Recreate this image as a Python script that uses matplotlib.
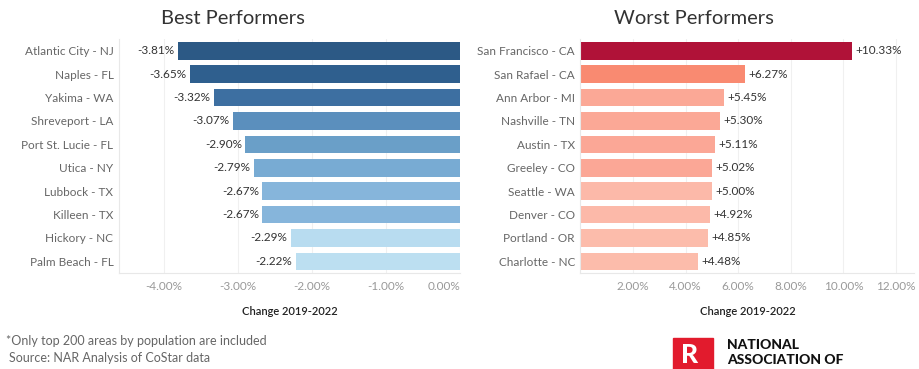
import matplotlib
matplotlib.use('Agg')
import matplotlib.pyplot as plt
from matplotlib.patches import Rectangle

best_cities = ['Atlantic City - NJ', 'Naples - FL', 'Yakima - WA', 'Shreveport - LA',
               'Port St. Lucie - FL', 'Utica - NY', 'Lubbock - TX', 'Killeen - TX',
               'Hickory - NC', 'Palm Beach - FL']
best_values = [-3.81, -3.65, -3.32, -3.07, -2.90, -2.79, -2.67, -2.67, -2.29, -2.22]
best_colors = ['#2c5985', '#2f5f8e', '#3d6fa1', '#5b8fbd', '#6a9fc8',
               '#78abd3', '#86b5db', '#86b5db', '#b8dcf0', '#bcdff1']

worst_cities = ['San Francisco - CA', 'San Rafael - CA', 'Ann Arbor - MI', 'Nashville - TN',
                'Austin - TX', 'Greeley - CO', 'Seattle - WA', 'Denver - CO',
                'Portland - OR', 'Charlotte - NC']
worst_values = [10.33, 6.27, 5.45, 5.30, 5.11, 5.02, 5.00, 4.92, 4.85, 4.48]
worst_colors = ['#b01238', '#f98a71', '#fba896', '#fba896', '#fba796',
                '#fba796', '#fcb9a9', '#fcb9a9', '#fcbcab', '#fcbcab']

best_ticks = [-4, -3, -2, -1, 0]
worst_ticks = [2, 4, 6, 8, 10, 12]

plt.rcParams['font.family'] = ['Lato', 'DejaVu Sans']

fig = plt.figure(figsize=(9.19, 3.69), dpi=100)
ax1 = fig.add_axes([0.1295, 0.260, 0.371, 0.634])
ax2 = fig.add_axes([0.6316, 0.260, 0.3634, 0.634])


def style(ax, cities, ticks, labels):
    ax.set_ylim(9.5, -0.5)
    ax.set_yticks(range(len(cities)))
    ax.set_yticklabels(cities, fontsize=8.5, color='#666666')
    ax.set_xticks(ticks)
    ax.set_xticklabels(labels, fontsize=8.5, color='#999999')
    ax.tick_params(length=0, pad=6)
    ax.tick_params(axis='y', pad=4)
    ax.grid(axis='x', color='#f0f0f0', linewidth=0.8)
    ax.set_axisbelow(True)
    for s in ['top', 'right']:
        ax.spines[s].set_visible(False)
    for s in ['left', 'bottom']:
        ax.spines[s].set_color('#e8e8e8')
        ax.spines[s].set_linewidth(0.8)
    ax.set_xlabel('Change 2019-2022', fontsize=8, fontweight='semibold',
                  color='#222222', labelpad=10)


# best performers
ax1.barh(range(len(best_cities)), best_values, height=0.75, color=best_colors)
ax1.set_xlim(-4.61, 0)
style(ax1, best_cities, best_ticks, ['%.2f%%' % t for t in best_ticks])
ax1.get_xticklabels()[-1].set_ha('right')
for i, v in enumerate(best_values):
    ax1.text(v - 0.05, i, '%.2f%%' % v, ha='right', va='center', fontsize=8.5, color='#333333')

# worst performers
ax2.barh(range(len(worst_cities)), worst_values, height=0.75, color=worst_colors)
ax2.set_xlim(0, 12.7)
style(ax2, worst_cities, worst_ticks, ['%.2f%%' % t for t in worst_ticks])
for i, v in enumerate(worst_values):
    ax2.text(v + 0.12, i, '+%.2f%%' % v, ha='left', va='center', fontsize=8.5, color='#333333')

# panel titles, centred over each whole panel
fig.text(233 / 919, 1 - 19 / 369, 'Best Performers', fontsize=14.5,
         color='#333333', ha='center', va='center')
fig.text(694 / 919, 1 - 19 / 369, 'Worst Performers', fontsize=14.5,
         color='#333333', ha='center', va='center')

# footnotes
fig.text(6 / 919, 1 - 341 / 369, '*Only top 200 areas by population are included',
         fontsize=9, color='#666666', va='center')
fig.text(9 / 919, 1 - 358 / 369, 'Source: NAR Analysis of CoStar data',
         fontsize=9, color='#666666', va='center')

# logo
fig.patches.append(Rectangle((673 / 919, 0), 40 / 919, 31 / 369,
                             transform=fig.transFigure, color='#e21b2d'))
fig.text(690 / 919, 1 - 355 / 369, 'R', fontsize=19, fontweight='black', color='white',
         ha='center', va='center')
fig.text(727 / 919, 1 - 345 / 369, 'NATIONAL', fontsize=10, fontweight='black',
         color='#111111', va='center')
fig.text(727 / 919, 1 - 360 / 369, 'ASSOCIATION OF', fontsize=10, fontweight='black',
         color='#111111', va='center')

fig.savefig('out.png', dpi=100)
